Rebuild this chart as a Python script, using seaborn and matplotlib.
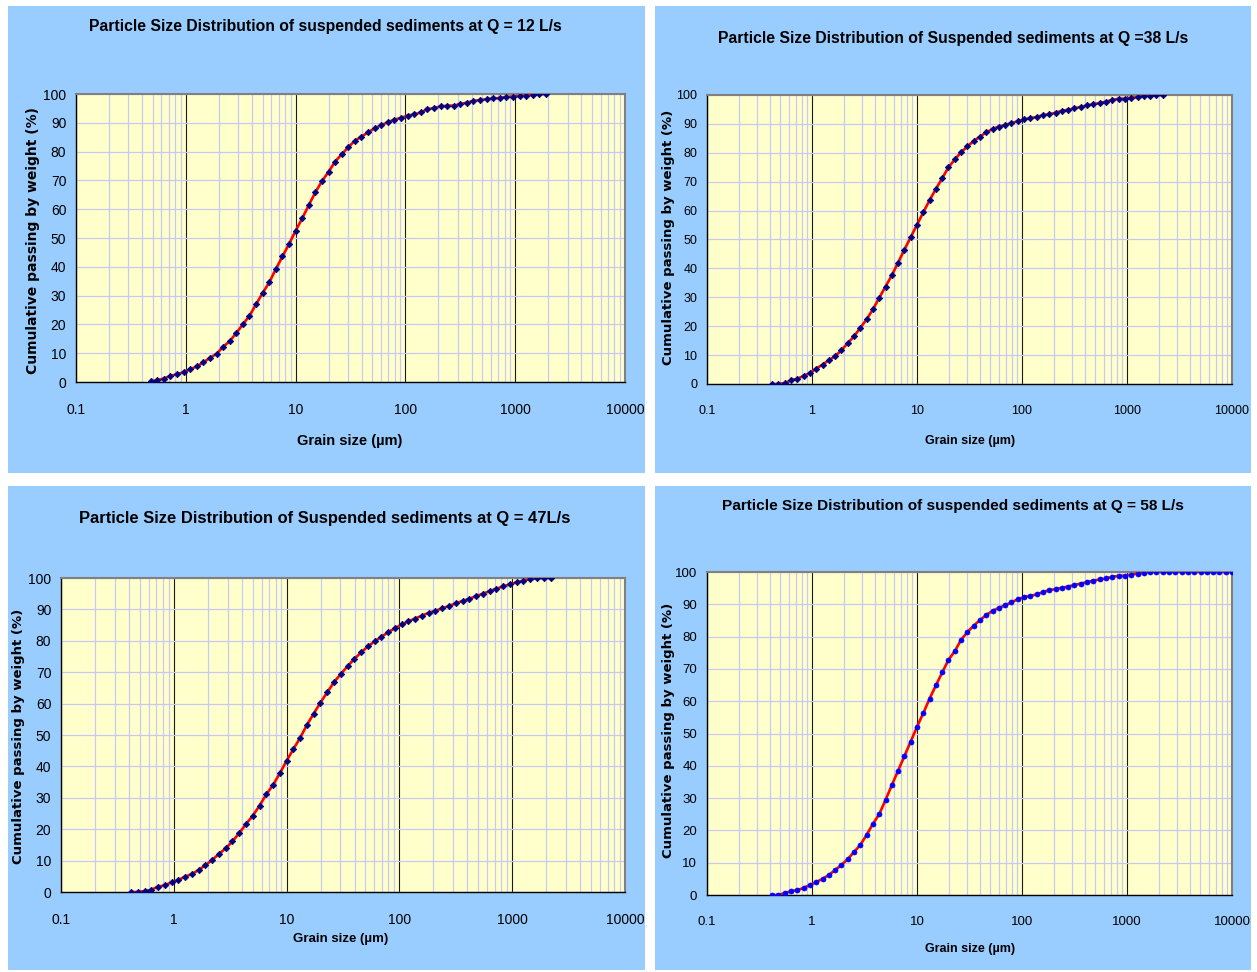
import matplotlib
matplotlib.use("Agg")
import matplotlib.pyplot as plt
from matplotlib.patches import Rectangle
from matplotlib.ticker import FixedLocator, LogLocator, NullFormatter
import seaborn as sns
import pandas as pd

# Laser-diffraction size classes (µm)
size_um = [0.417, 0.479, 0.550, 0.631, 0.724, 0.832, 0.955,
           1.096, 1.259, 1.445, 1.660, 1.905, 2.188, 2.512, 2.884, 3.311, 3.802,
           4.365, 5.012, 5.754, 6.607, 7.586, 8.710,
           10.00, 11.48, 13.18, 15.14, 17.38, 19.95, 22.91, 26.30, 30.20, 34.67,
           39.81, 45.71, 52.48, 60.26, 69.18, 79.43, 91.20,
           104.7, 120.2, 138.0, 158.5, 182.0, 208.9, 239.9, 275.4, 316.2, 363.1,
           416.9, 478.6, 549.5, 631.0, 724.4, 831.8, 955.0,
           1096, 1259, 1445, 1660, 1905, 2188, 2512, 2884, 3311, 3802, 4365,
           5012, 5754, 6607, 7586, 8710, 10000]

# Cumulative % passing; Q = 12 L/s starts at the 0.479 µm class, the others at 0.417 µm
pct_q12 = [0.2, 0.6, 1.2, 2.1, 2.7, 3.4, 4.4, 5.4, 6.8, 8.4, 9.8, 12.2, 14.2, 17.0,
           20.0, 23.0, 27.0, 30.9, 34.6, 39.2, 43.6, 47.9, 52.5,
           56.8, 61.4, 65.9, 69.7, 73.0, 76.5, 79.1, 81.5, 83.8, 85.2,
           86.7, 88.1, 89.2, 90.2, 91.1, 91.7, 92.5, 92.9, 93.6, 94.7,
           95.1, 95.7, 95.9, 96.0, 96.5, 97.0, 97.6, 97.9, 98.2, 98.5,
           98.6, 99.0, 99.1, 99.3, 99.4, 99.8, 99.9, 100.0]

pct_q38 = [0.0, 0.0, 0.3, 1.3, 1.8, 2.8, 3.8, 5.3, 6.7, 8.2, 9.6, 11.7, 14.1, 16.5,
           19.4, 22.4, 25.8, 29.8, 33.7, 37.6, 42.0, 46.5, 50.8, 55.1,
           59.4, 63.6, 67.5, 71.2, 75.0, 77.7, 80.2, 82.2, 84.1, 85.6,
           87.1, 88.2, 89.1, 89.6, 90.3, 90.9, 91.6, 92.0, 92.4, 93.0,
           93.3, 93.9, 94.5, 94.9, 95.4, 95.9, 96.4, 96.8, 97.2, 97.7,
           98.3, 98.7, 98.7, 99.1, 99.2, 99.7, 99.8, 99.9, 100.0]

pct_q47 = [0.0, 0.0, 0.3, 0.7, 1.7, 2.1, 3.1, 3.8, 4.9, 5.7, 7.0, 8.5, 10.2, 12.1,
           13.9, 16.1, 18.8, 21.6, 24.3, 27.5, 31.1, 34.1, 37.8, 41.8,
           45.5, 49.1, 53.2, 56.8, 60.3, 63.6, 66.8, 69.4, 71.9, 74.2,
           76.3, 78.2, 79.8, 81.3, 82.7, 84.0, 85.2, 86.2, 87.1, 88.0,
           88.9, 89.6, 90.3, 91.1, 91.9, 92.7, 93.4, 94.2, 95.0, 95.8,
           96.6, 97.3, 98.0, 98.6, 99.2, 99.6, 99.9, 100.0, 100.0]

pct_q58 = [0.0, 0.0, 0.6, 1.2, 1.5, 2.2, 3.1, 4.0, 5.0, 6.2, 7.7, 9.3, 11.1, 13.3,
           15.5, 18.6, 22.0, 25.0, 29.4, 34.0, 38.5, 43.0, 47.5, 52.1,
           56.3, 60.8, 64.9, 68.9, 72.8, 75.5, 79.0, 81.4, 83.4, 85.1,
           86.7, 88.0, 88.9, 89.7, 90.6, 91.6, 92.2, 92.6, 93.1, 93.8,
           94.4, 94.7, 95.1, 95.5, 96.0, 96.4, 96.9, 97.3, 97.7, 98.0,
           98.5, 98.8, 98.8, 99.2, 99.5, 99.7,
           100.0, 100.0, 100.0, 100.0, 100.0, 100.0, 100.0,
           100.0, 100.0, 100.0, 100.0, 100.0, 100.0, 100.0]

titles = ["Particle Size Distribution of suspended sediments at Q = 12 L/s",
          "Particle Size Distribution of Suspended sediments at Q =38 L/s",
          "Particle Size Distribution of Suspended sediments at Q = 47L/s",
          "Particle Size Distribution of suspended sediments at Q = 58 L/s"]
x_ticks = [0.1, 1, 10, 100, 1000, 10000]
x_tick_labels = ["0.1", "1", "10", "100", "1000", "10000"]
y_ticks = list(range(0, 101, 10))
x_title = "Grain size (µm)"
y_title = "Cumulative passing by weight (%)"

sns.set_theme(style="white")
plt.rcParams['font.family'] = ['Liberation Sans', 'DejaVu Sans']
plt.rcParams['text.color'] = 'black'
plt.rcParams['axes.labelcolor'] = 'black'

W, H = 1257, 972
fig = plt.figure(figsize=(W / 100, H / 100), dpi=100)
fig.patch.set_facecolor("white")


def box(x0, y0, x1, y1):
    """Pixel box (top-left origin) -> figure fraction [left, bottom, width, height]."""
    return [x0 / W, 1 - y1 / H, (x1 - x0) / W, (y1 - y0) / H]


panels = [
    dict(bg=(8, 6, 645, 473), ax=(76, 94, 625, 382), title=(325, 26, 11.3),
         xlab=(0.499, -0.205, 10.5), ylab=(-0.078, 0.493, 10), tick=10,
         start=1, pct=pct_q12, marker="D", ms=3.3, mc="#000080"),
    dict(bg=(655, 6, 1251, 473), ax=(707, 95, 1232, 384), title=(953, 38, 11.3),
         xlab=(0.501, -0.197, 9), ylab=(-0.074, 0.509, 9.5), tick=9,
         start=0, pct=pct_q38, marker="D", ms=3.3, mc="#000080"),
    dict(bg=(8, 486, 645, 970), ax=(61, 578, 625, 892), title=(325, 518, 11.9),
         xlab=(0.496, -0.150, 9.5), ylab=(-0.076, 0.497, 9.5), tick=10,
         start=0, pct=pct_q47, marker="D", ms=3.3, mc="#000080"),
    dict(bg=(655, 486, 1251, 970), ax=(707, 572, 1232, 895), title=(953, 506, 11.1),
         xlab=(0.501, -0.167, 9), ylab=(-0.074, 0.511, 9.5), tick=9.5,
         start=0, pct=pct_q58, marker="o", ms=3.6, mc="#0000FF"),
]

grid_light = "#C8C8F4"

for p, title in zip(panels, titles):
    x0, y0, x1, y1 = p["bg"]
    l, b, w, h = box(x0, y0, x1, y1)
    fig.patches.append(Rectangle((l, b), w, h, transform=fig.transFigure,
                                 facecolor="#99CCFF", edgecolor="none", zorder=-5))

    ax = fig.add_axes(box(*p["ax"]))
    ax.set_facecolor("#FFFFCC")
    ax.set_xscale("log")

    sizes = size_um[p["start"]:p["start"] + len(p["pct"])]
    df = pd.DataFrame({"size": sizes, "pct": p["pct"]})
    sns.lineplot(data=df, x="size", y="pct", ax=ax, color="#FF0000", lw=1.9,
                 marker=p["marker"], markersize=p["ms"],
                 markerfacecolor=p["mc"], markeredgecolor=p["mc"],
                 markeredgewidth=0.5, zorder=3)

    ax.set_xlim(0.1, 10000)
    ax.set_ylim(0, 100)
    ax.xaxis.set_major_locator(FixedLocator(x_ticks))
    ax.set_xticklabels(x_tick_labels)
    ax.xaxis.set_minor_locator(LogLocator(base=10, subs=range(2, 10), numticks=50))
    ax.xaxis.set_minor_formatter(NullFormatter())
    ax.set_yticks(y_ticks)
    ax.set_yticklabels([str(v) for v in y_ticks])

    ax.set_axisbelow(True)
    ax.grid(which="minor", axis="x", color=grid_light, lw=0.9)
    ax.grid(which="major", axis="y", color=grid_light, lw=0.9)
    ax.grid(which="major", axis="x", color="#1a1a1a", lw=0.8)

    ax.tick_params(axis="x", which="minor", length=0)
    ax.tick_params(axis="both", which="major", direction="out", length=5,
                   width=0.9, color="black", labelsize=p["tick"], labelcolor="black")
    ax.tick_params(axis="x", which="major", pad=10)
    ax.tick_params(axis="y", which="major", pad=2)

    for side in ("top", "right"):
        ax.spines[side].set_color("#808080")
        ax.spines[side].set_linewidth(1.5)
    for side in ("left", "bottom"):
        ax.spines[side].set_color("black")
        ax.spines[side].set_linewidth(1.0)

    xl = p["xlab"]
    ax.set_xlabel(x_title, fontsize=xl[2], fontweight="bold", va="center")
    ax.xaxis.set_label_coords(xl[0], xl[1])
    yl = p["ylab"]
    ax.set_ylabel(y_title, fontsize=yl[2], fontweight="bold",
                  family=["DejaVu Sans"], va="center")
    ax.yaxis.set_label_coords(yl[0], yl[1])

    tx, ty, ts = p["title"]
    fig.text(tx / W, 1 - ty / H, title, ha="center", va="center", fontsize=ts,
             fontweight="bold")

fig.savefig("out.png", dpi=100, facecolor="white")
